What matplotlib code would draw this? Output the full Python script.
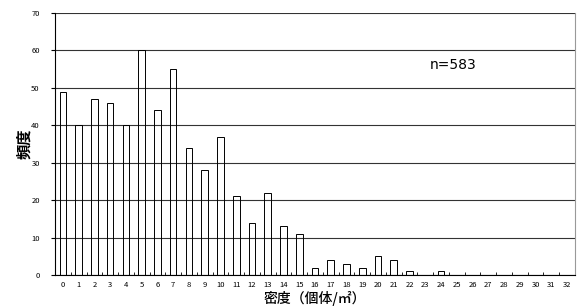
import numpy as np
import matplotlib
matplotlib.use("Agg")
import matplotlib.pyplot as plt

plt.rcParams['font.family'] = ['Noto Sans CJK JP', 'DejaVu Sans']

# 密度（個体/㎡）ごとの頻度
density = list(range(0, 33))
freq = [49, 40, 47, 46, 40, 60, 44, 55, 34, 28, 37, 21, 14, 22, 13, 11,
        2, 4, 3, 2, 5, 4, 1, 0, 1, 0, 0, 0, 0, 0, 0, 0, 0]
n_total = 583

fig = plt.figure(figsize=(5.83, 3.08), dpi=100)
ax = fig.add_axes([55 / 583, 1 - 275 / 308, 520 / 583, 262 / 308])

x = np.arange(len(density))
ax.bar(x, freq, width=0.42, color="none", edgecolor="black", linewidth=0.7, zorder=3)

ax.set_xlim(-0.5, len(density) - 0.5)
ax.set_ylim(0, 70)
ax.set_yticks(range(0, 71, 10))
ax.set_xticks(x)
ax.set_xticklabels([str(d) for d in density])
ax.set_xticks(x[:-1] + 0.5, minor=True)
ax.tick_params(axis="x", which="major", length=0, labelsize=5.5, pad=4)
ax.tick_params(axis="x", which="minor", length=2, direction="in")
ax.tick_params(axis="y", length=3, labelsize=5.5, pad=8)
ax.grid(axis="y", color="#333333", linewidth=0.8, zorder=0)

ax.spines["top"].set_visible(False)
ax.spines["right"].set_color("#999999")
ax.spines["left"].set_color("black")
ax.spines["bottom"].set_color("black")

ax.set_xlabel("密度（個体/㎡）", fontsize=10, fontweight="medium")
ax.xaxis.set_label_coords(0.5, -24 / 262, transform=ax.transAxes)
ax.xaxis.label.set_va("center")
ax.set_ylabel("頻度", fontsize=11, fontweight="bold")
ax.yaxis.set_label_coords(-31 / 520, 0.5, transform=ax.transAxes)
ax.yaxis.label.set_va("center")

ax.text(0.72, 0.80, f"n={n_total}", transform=ax.transAxes, fontsize=10,
        va="center", family="DejaVu Sans")

fig.savefig("out.png", dpi=100)
